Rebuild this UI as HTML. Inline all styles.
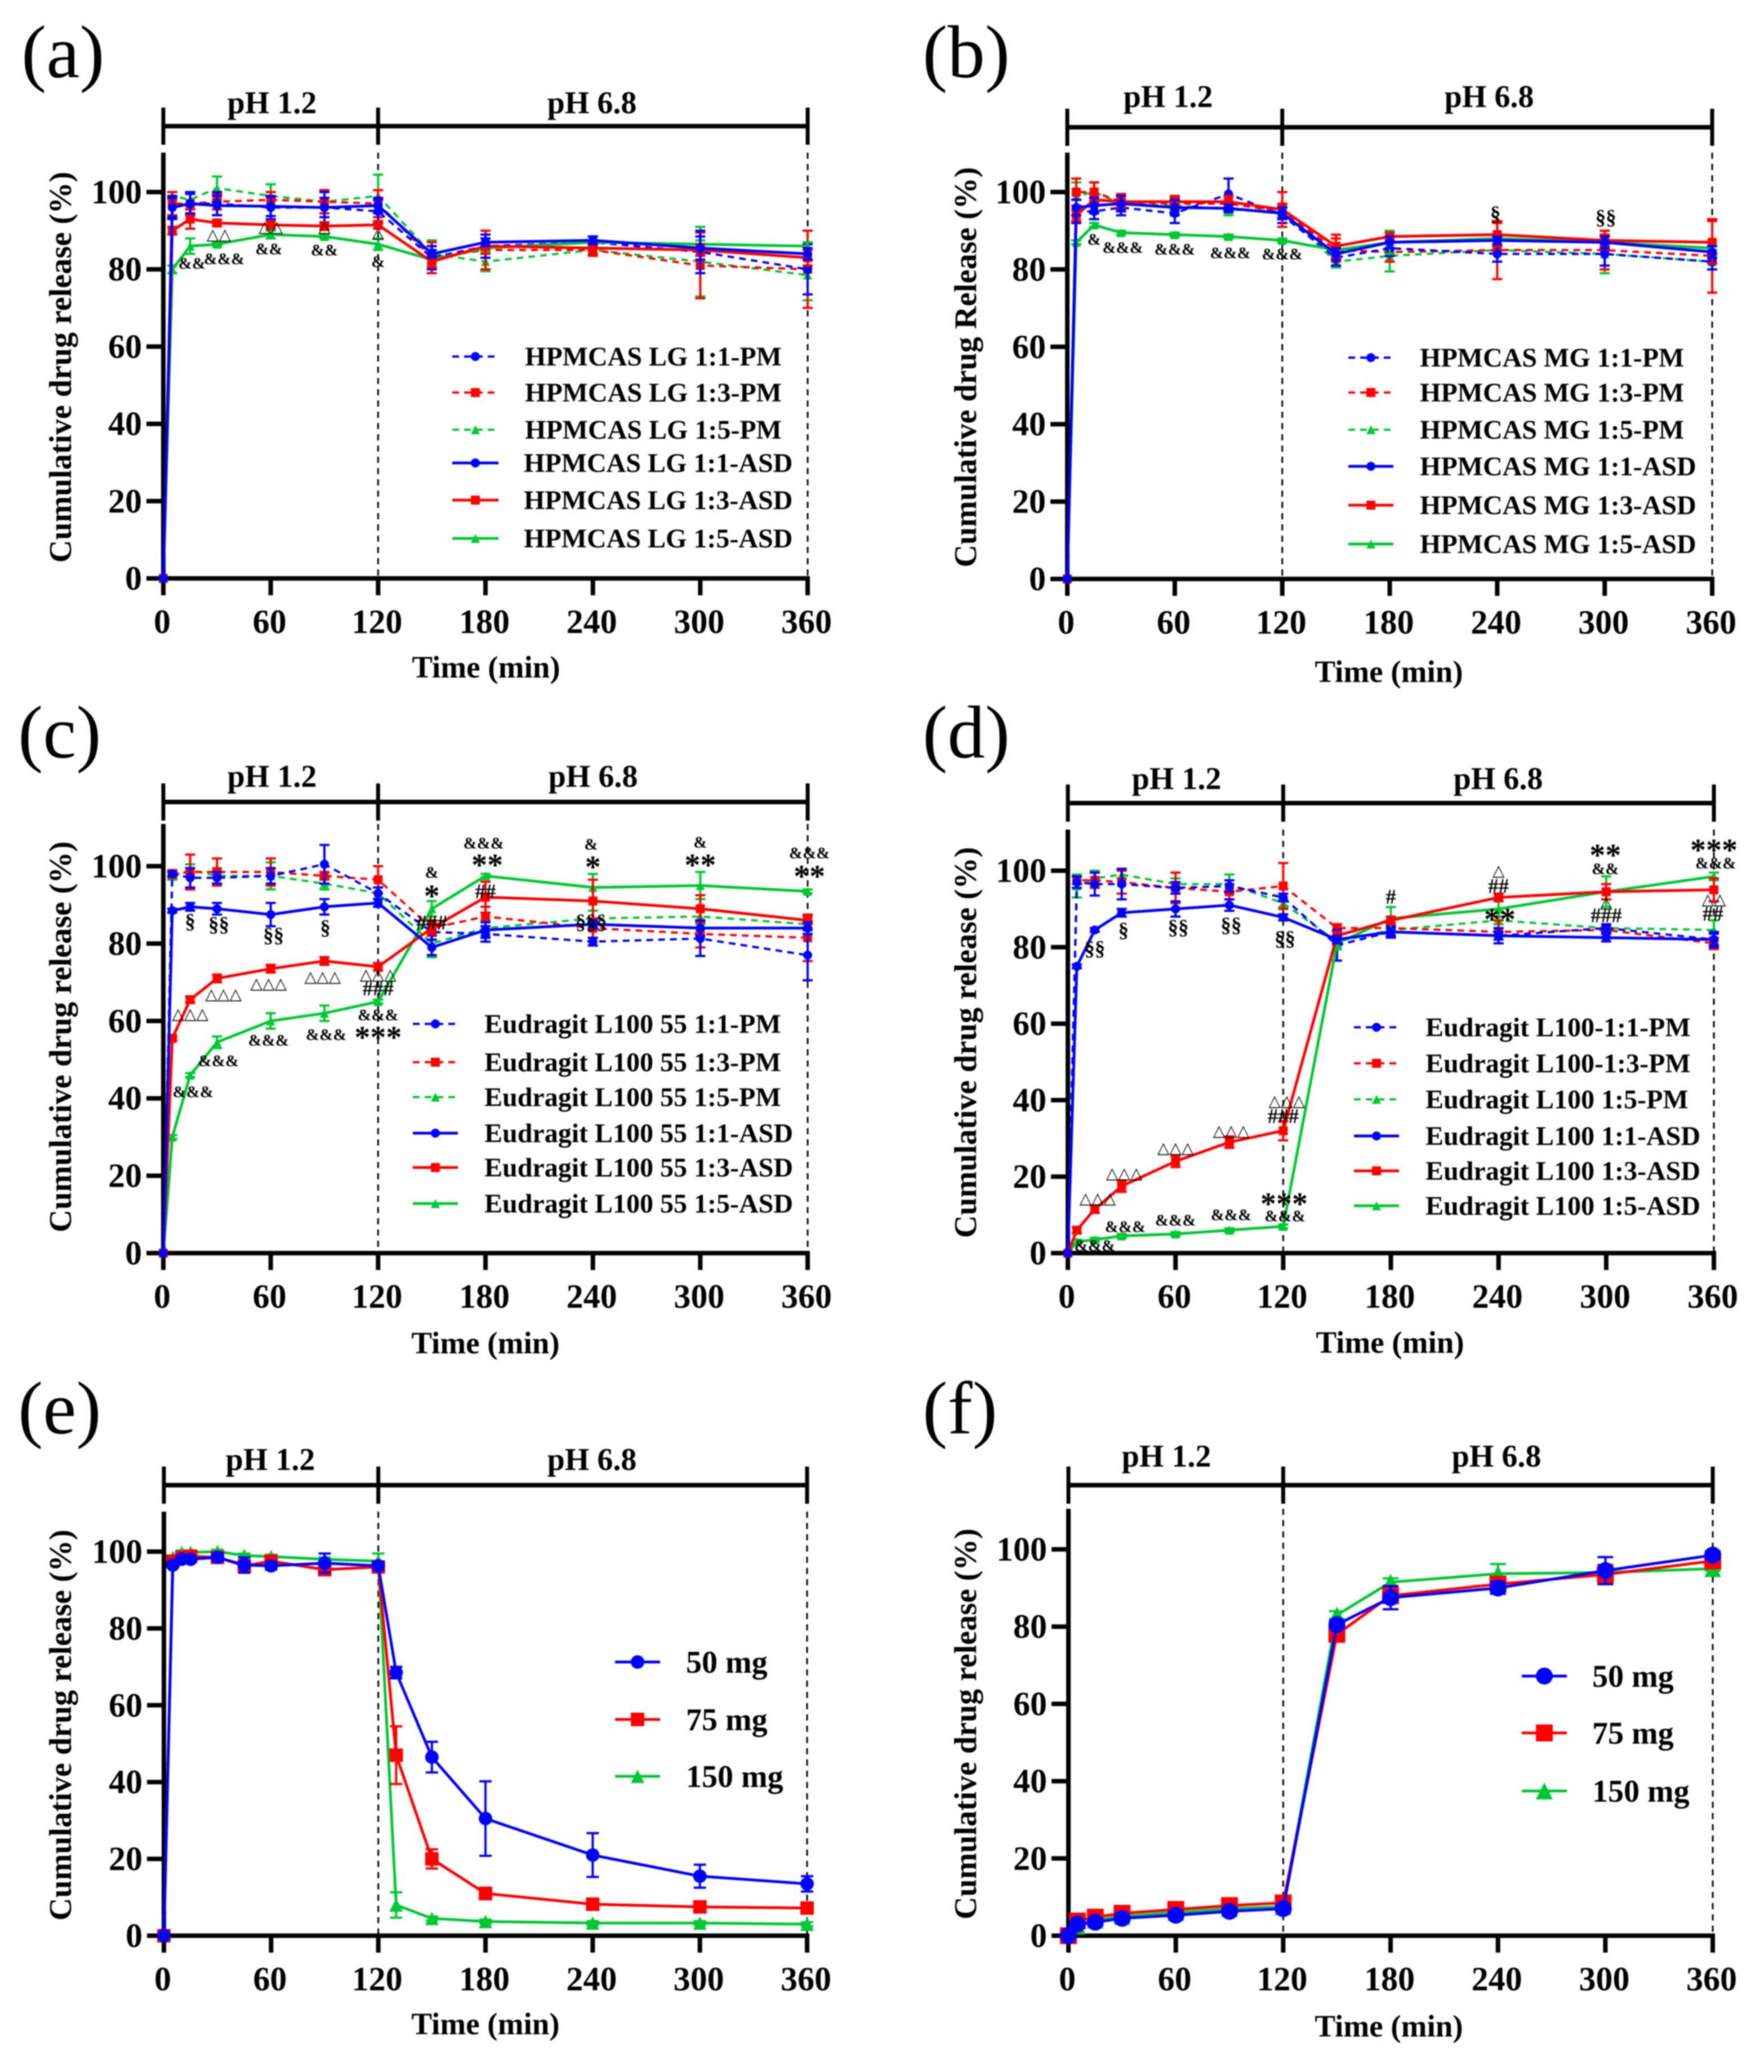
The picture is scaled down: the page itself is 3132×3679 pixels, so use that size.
<!DOCTYPE html>
<html lang="en">
<head>
<meta charset="utf-8">
<title>Cumulative drug release profiles</title>
<style>
html,body{margin:0;padding:0;background:#fff}
svg{display:block;filter:blur(1.1px)}
text{font-family:"Liberation Serif","DejaVu Serif",serif;fill:#000}
.b{font-weight:bold}
.panel-letter{font-size:133px;font-weight:normal}
.ph{font-size:56px;font-weight:bold;text-anchor:middle}
.ytitle{font-size:56px;font-weight:bold;text-anchor:middle}
.xtitle{font-size:55px;font-weight:bold;text-anchor:middle}
.leg{font-size:48px;font-weight:bold}
.leg2{font-size:56px;font-weight:bold}
.tick{font-size:60px;font-weight:bold}
</style>
</head>
<body>
<svg id="figure" xmlns="http://www.w3.org/2000/svg" width="3132" height="3679" viewBox="0 0 3132 3679">
<rect width="3132" height="3679" fill="#fff"/>

<g id="panel-a">
<text class="panel-letter" x="38" y="137">(a)</text>
<text class="ph" x="483" y="201">pH 1.2</text>
<text class="ph" x="1051" y="201">pH 6.8</text>
<text class="ytitle" transform="translate(126,652) rotate(-90)">Cumulative drug release (%)</text>
<text class="xtitle" x="863" y="1203">Time (min)</text>
<text class="leg" x="932" y="649">HPMCAS LG 1:1-PM</text>
<text class="leg" x="932" y="713">HPMCAS LG 1:3-PM</text>
<text class="leg" x="932" y="779">HPMCAS LG 1:5-PM</text>
<text class="leg" x="930" y="838">HPMCAS LG 1:1-ASD</text>
<text class="leg" x="930" y="904">HPMCAS LG 1:3-ASD</text>
<text class="leg" x="930" y="972">HPMCAS LG 1:5-ASD</text>
</g>

<g id="panel-b">
<text class="panel-letter" x="1638" y="137">(b)</text>
<text class="ph" x="2074" y="190">pH 1.2</text>
<text class="ph" x="2644" y="190">pH 6.8</text>
<text class="ytitle" transform="translate(1733,652) rotate(-90)">Cumulative drug Release (%)</text>
<text class="xtitle" x="2466" y="1211">Time (min)</text>
<text class="leg" x="2521" y="651">HPMCAS MG 1:1-PM</text>
<text class="leg" x="2521" y="713">HPMCAS MG 1:3-PM</text>
<text class="leg" x="2521" y="779">HPMCAS MG 1:5-PM</text>
<text class="leg" x="2521" y="844">HPMCAS MG 1:1-ASD</text>
<text class="leg" x="2521" y="913">HPMCAS MG 1:3-ASD</text>
<text class="leg" x="2521" y="982">HPMCAS MG 1:5-ASD</text>
</g>

<g id="panel-c">
<text class="panel-letter" x="32" y="1345">(c)</text>
<text class="ph" x="483" y="1397">pH 1.2</text>
<text class="ph" x="1053" y="1397">pH 6.8</text>
<text class="ytitle" transform="translate(126,1841) rotate(-90)">Cumulative drug release (%)</text>
<text class="xtitle" x="862" y="2403">Time (min)</text>
<text class="leg" x="860" y="1834">Eudragit L100 55 1:1-PM</text>
<text class="leg" x="860" y="1902">Eudragit L100 55 1:3-PM</text>
<text class="leg" x="860" y="1964">Eudragit L100 55 1:5-PM</text>
<text class="leg" x="860" y="2028">Eudragit L100 55 1:1-ASD</text>
<text class="leg" x="860" y="2089">Eudragit L100 55 1:3-ASD</text>
<text class="leg" x="860" y="2153">Eudragit L100 55 1:5-ASD</text>
</g>

<g id="panel-d">
<text class="panel-letter" x="1638" y="1345">(d)</text>
<text class="ph" x="2089" y="1401">pH 1.2</text>
<text class="ph" x="2660" y="1401">pH 6.8</text>
<text class="ytitle" transform="translate(1733,1851) rotate(-90)">Cumulative drug release (%)</text>
<text class="xtitle" x="2468" y="2402">Time (min)</text>
<text class="leg" x="2531" y="1840">Eudragit L100-1:1-PM</text>
<text class="leg" x="2531" y="1904">Eudragit L100-1:3-PM</text>
<text class="leg" x="2531" y="1968">Eudragit L100 1:5-PM</text>
<text class="leg" x="2531" y="2033">Eudragit L100 1:1-ASD</text>
<text class="leg" x="2531" y="2095">Eudragit L100 1:3-ASD</text>
<text class="leg" x="2531" y="2157">Eudragit L100 1:5-ASD</text>
</g>

<g id="panel-e">
<text class="panel-letter" x="32" y="2545">(e)</text>
<text class="ph" x="480" y="2610">pH 1.2</text>
<text class="ph" x="1051" y="2610">pH 6.8</text>
<text class="ytitle" transform="translate(126,3063) rotate(-90)">Cumulative drug release (%)</text>
<text class="xtitle" x="862" y="3612">Time (min)</text>
<text class="leg2" x="1218" y="2970">50 mg</text>
<text class="leg2" x="1218" y="3072">75 mg</text>
<text class="leg2" x="1218" y="3173">150 mg</text>
</g>

<g id="panel-f">
<text class="panel-letter" x="1638" y="2545">(f)</text>
<text class="ph" x="2071" y="2604">pH 1.2</text>
<text class="ph" x="2657" y="2604">pH 6.8</text>
<text class="ytitle" transform="translate(1733,3061) rotate(-90)">Cumulative drug release (%)</text>
<text class="xtitle" x="2466" y="3616">Time (min)</text>
<text class="leg2" x="2827" y="2995">50 mg</text>
<text class="leg2" x="2827" y="3096">75 mg</text>
<text class="leg2" x="2827" y="3199">150 mg</text>
</g>
</svg>

<script>
// ---------- shared axis data ----------
const xTickLabels = [0, 60, 120, 180, 240, 300, 360];
const yTickLabels = [0, 20, 40, 60, 80, 100];
const sampleTimes = [0, 5, 15, 30, 60, 90, 120, 150, 180, 240, 300, 360];
const sampleTimesE = [0, 5, 10, 15, 30, 45, 60, 90, 120, 130, 150, 180, 240, 300, 360];

// ---------- panel (a) HPMCAS LG ----------
const aPm11 = [0, 96, 97, 97, 96, 96, 95, 83, 86, 87, 84.5, 80];
const aPm13 = [0, 97, 97, 97.5, 98, 97.5, 97, 83, 85, 85, 81, 80];
const aPm15 = [0, 99, 98, 101, 99, 97.5, 99, 84, 82, 85, 82, 78.5];
const aAsd11 = [0, 96, 97, 96.5, 96.3, 96, 96.5, 84, 87, 87.5, 85.5, 84];
const aAsd13 = [0, 90, 93, 92, 91.5, 91.2, 91.5, 82, 86, 85.5, 85, 83];
const aAsd15 = [0, 80, 86, 86.5, 89, 88.5, 86.5, 82.5, 85.5, 87, 86.5, 86];
const aPm11Err = [0, 3, 3, 3, 3, 4, 3, 3, 3, 1.5, 5.5, 6.5];
const aPm13Err = [0, 3, 3, 2, 2, 3, 3.5, 4, 5, 1.5, 8.5, 10];
const aPm15Err = [0, 1, 1.5, 3, 3, 3, 5.5, 3.5, 2.5, 1, 9, 6.5];
const aAsd11Err = [0, 2.5, 2.5, 2.5, 2.5, 2.5, 2, 1, 1, 1, 3, 1.5];
const aAsd13Err = [0, 1, 2.5, 0.8, 1, 1, 1, 1.5, 2, 1.5, 1.5, 2];
const aAsd15Err = [0, 1, 2, 0.5, 1, 0.5, 1.5, 1, 1, 0.5, 1, 1];
const aNotes = [["&&",16,81.6],["&&&",34,82.7],["△△",31,89],["△△",60,91],["&&",59,85.3],["&&",90,85],["△",90,91],["△",120,89.5],["&",120,82]];

// ---------- panel (b) HPMCAS MG ----------
const bPm11 = [0, 95, 95, 96, 94.5, 99.5, 94, 83, 85.5, 84, 84, 82];
const bPm13 = [0, 100, 100, 97.5, 97, 97, 95, 85, 84.5, 85, 85, 83.5];
const bPm15 = [0, 99, 100, 97, 96.5, 95.5, 95, 82, 83.5, 85, 84, 82];
const bAsd11 = [0, 96, 96.5, 97, 96, 95.8, 94.5, 84, 87, 87.5, 87, 84.5];
const bAsd13 = [0, 94, 98, 97.5, 97.5, 97.5, 95.5, 86, 88.5, 89, 87.5, 87];
const bAsd15 = [0, 87, 91.5, 89.5, 89, 88.5, 87.5, 85, 87, 88, 87, 85.5];
const bPm11Err = [0, 3, 2, 2, 2.5, 4, 2, 2, 2, 2, 3, 2];
const bPm13Err = [0, 3.5, 2.5, 2, 1.5, 2, 2, 3, 2.5, 7.5, 5, 9.5];
const bPm15Err = [0, 3.5, 2.5, 2, 1.5, 1.5, 1.5, 1.5, 4, 3, 5, 2];
const bAsd11Err = [0, 2, 2, 2, 2, 1, 1.5, 1.5, 1.5, 1, 1.5, 1.5];
const bAsd13Err = [0, 1.5, 1.5, 1.5, 1.5, 1.5, 4.5, 3, 1, 3, 1.5, 5.5];
const bAsd15Err = [0, 0.5, 0.5, 0.5, 0.5, 0.5, 0.5, 0.5, 3, 0.5, 0.5, 0.5];
const bNotes = [["&",15,87.8],["&&&",31,85.7],["&&&",60,85.2],["&&&",91,84.3],["&&&",120,84],["§",239,94.4],["§§",300.6,93.5]];

// ---------- panel (c) Eudragit L100 55 ----------
const cPm11 = [0, 98, 97, 97, 97.5, 100.5, 93, 83, 82.5, 80.5, 81.3, 77];
const cPm13 = [0, 98, 98.5, 98.5, 98.5, 97.5, 96.5, 84, 87, 84, 82.5, 81.5];
const cPm15 = [0, 97.5, 99, 97.5, 97.5, 95.5, 93, 80, 84, 86.5, 87, 85];
const cAsd11 = [0, 88.5, 89.5, 89, 87.5, 89.5, 90.5, 79, 83.5, 85, 84, 84];
const cAsd13 = [0, 55.5, 65.5, 71, 73.5, 75.5, 74, 84, 92, 91, 89, 86];
const cAsd15 = [0, 30, 46, 54.5, 60, 62, 65, 89, 97.5, 94.5, 95, 93.5];
const cPm11Err = [0, 0.5, 2.5, 1.5, 2, 5, 1.5, 2, 2, 1, 4.5, 6.5];
const cPm13Err = [0, 1, 4.5, 3.5, 3.5, 1, 3.5, 2, 2.5, 2.5, 3.5, 6];
const cPm15Err = [0, 1, 1.5, 2, 3.5, 1.5, 1.5, 3.5, 2, 2, 2, 1];
const cAsd11Err = [0, 0.5, 1, 1.5, 3, 2, 1, 2, 2, 1, 2, 1.5];
const cAsd13Err = [0, 0.5, 0.8, 1, 1, 1, 1, 1.5, 4, 5.5, 3.5, 1];
const cAsd15Err = [0, 0.5, 0.5, 1.5, 2, 2, 0.5, 2, 0.5, 3.5, 3.5, 0.5];
const cNotes = [["§",15,85.8],["§§",31,85],["§§",61.6,82.2],["§",90.5,84.2],["△△△",15,61.8],["△△△",33.6,66.9],["△△△",58.8,69.7],["△△△",89,71.4],["△△△",120,72],["###",120,68.4],["###",150,85.4],["##",180,93.5],["§§§",239,85.6],["&&&",16.6,41.7],["&&&",30.8,49.7],["&&&",58.8,55],["&&&",91,56.5],["&&&",120,61.6],["***",120,57],["&",150,98.4],["*",150,93.5],["&&&",179,106],["**",181,101.5],["&",239,105.7],["*",240,101],["&",300,106.2],["**",300,101.5],["&&&",361,103.4],["**",361,98.6]];

// ---------- panel (d) Eudragit L100 ----------
const dPm11 = [0, 97, 96.5, 96.5, 95.5, 96, 93, 80.5, 84, 83, 85, 82];
const dPm13 = [0, 97.5, 97.5, 97, 95.5, 94.5, 96, 85, 85, 84, 84.5, 81];
const dPm15 = [0, 96, 98, 99, 96.5, 96.5, 91.5, 81.5, 84.5, 87, 85, 84.5];
const dAsd11 = [0, 75, 84.5, 89, 90, 91, 87.8, 82, 84, 83, 82.5, 82];
const dAsd13 = [0, 6, 11.5, 17.5, 24, 29, 32, 83, 87, 93, 94.5, 95];
const dAsd15 = [0, 3, 3.5, 4.5, 5, 6, 7, 81, 87.5, 90, 94.5, 98.5];
const dPm11Err = [0, 1.5, 3, 4, 1.5, 1.5, 1, 4, 1.5, 1, 1, 2];
const dPm13Err = [0, 1, 2, 3, 4, 2, 6, 1, 1, 3, 1, 1.5];
const dPm15Err = [0, 3, 2, 1, 1.5, 2.5, 1, 1, 1.5, 1, 1, 2.5];
const dAsd11Err = [0, 0.5, 0.5, 1, 2, 1.5, 0.8, 1, 1, 2, 1, 1.5];
const dAsd13Err = [0, 0.8, 1, 1.5, 1.5, 1.5, 2.5, 1, 1, 1, 2, 3];
const dAsd15Err = [0, 0.5, 0.5, 0.5, 0.5, 0.5, 0.5, 1.5, 3, 2, 4, 1];
const dNotes = [["§§",15,79.7],["§",31,84.5],["§§",61.5,85.2],["§§",91,85.8],["§§",121,82.3],["&&&",15,2],["&&&",32,6.9],["&&&",60,8.6],["&&&",91,10],["&&&",121,9.7],["***",120.5,14.1],["△△△",16.6,14.3],["△△△",31.4,20.9],["△△△",60,27.5],["△△△",91,32],["△△△",122,39.8],["###",120,35.8],["#",180,93.2],["△",240,100],["##",240,96],["**",240.7,88.5],["**",299.5,105.3],["&&",299.5,100.5],["△",300,91.7],["###",300,88.3],["***",360,106.6],["&&&",361,102],["△△",360,92.5],["##",359.5,88.8]];

// ---------- panel (e) doses ----------
const e50 = [0, 96.5, 98, 98, 98.5, 96.5, 96.3, 97, 96.3, 68.5, 46.5, 30.5, 21, 15.5, 13.5];
const e75 = [0, 97.5, 98.5, 98.8, 98.5, 96.3, 97.5, 95.3, 96, 47, 20, 11, 8.2, 7.5, 7.2];
const e150 = [0, 98.5, 99.8, 99.8, 100, 99, 98.7, 98, 97.5, 8, 4.5, 3.7, 3.3, 3.3, 3];
const e50Err = [0, 0.5, 0.5, 0.5, 1, 2, 1, 2.5, 1, 1.5, 4, 9.7, 5.7, 3, 2];
const e75Err = [0, 0.5, 0.5, 0.5, 1, 1, 1, 1, 1, 7.5, 2.5, 1.5, 1, 1, 1];
const e150Err = [0, 0.5, 0.5, 0.5, 0.5, 0.5, 0.5, 0.5, 2, 3.3, 0.5, 0.5, 0.5, 0.5, 0.5];

// ---------- panel (f) doses ----------
const f50 = [0, 3, 3.5, 4.5, 5.3, 6.3, 7, 80.5, 87.5, 90, 94.5, 98.5];
const f75 = [0, 3.8, 4.8, 5.8, 6.8, 7.8, 8.5, 78, 88, 91, 93.5, 97];
const f150 = [0, 2.5, 4, 5, 6, 7, 7.5, 83, 91.5, 93.7, 94, 95];
const f50Err = [0, 0.5, 0.8, 0.8, 0.8, 0.8, 0.8, 1, 3, 1.5, 3.5, 1];
const f75Err = [0, 0.5, 0.5, 0.5, 0.5, 0.5, 0.5, 1, 1.5, 1.5, 2.5, 1];
const f150Err = [0, 0.5, 0.5, 0.5, 0.5, 0.5, 0.5, 1, 1, 2.5, 0.5, 0.5];

// ---------- drawing ----------
const BLUE = '#0000ff', RED = '#ff0000', GREEN = '#00c832';
const SVGNS = 'http://www.w3.org/2000/svg';

function mk(tag, attrs, parent) {
  const el = document.createElementNS(SVGNS, tag);
  for (const k in attrs) el.setAttribute(k, attrs[k]);
  parent.appendChild(el);
  return el;
}

function line(parent, x1, y1, x2, y2, stroke, width, name, dash) {
  const el = mk('line', {x1: x1, y1: y1, x2: x2, y2: y2, stroke: stroke, 'stroke-width': width}, parent);
  if (dash) el.setAttribute('stroke-dasharray', dash);
  
  
  return el;
}

function marker(parent, shape, cx, cy, s, color) {
  let el;
  if (shape === 'circle') {
    el = mk('circle', {cx: cx, cy: cy, r: s, fill: color}, parent);
  } else if (shape === 'square') {
    el = mk('rect', {x: cx - s, y: cy - s, width: 2 * s, height: 2 * s, fill: color}, parent);
  } else {
    el = mk('polygon', {points: (cx - s) + ',' + (cy + s) + ' ' + (cx + s) + ',' + (cy + s) + ' ' + cx + ',' + (cy - s), fill: color}, parent);
  }
  
  
  return el;
}

function drawFrame(g, p, x, y) {
  const top = p.axisTop, y0 = y(0), x0 = x(0);
  // dashed phase dividers
  line(g, x(120), top, x(120), y0, '#000', 3, 'phase-divider-120', '11 9');
  line(g, x(360), top, x(360), y0, '#000', 3, 'phase-divider-360', '11 9');
  // phase bracket
  line(g, x0, p.bar, x(360), p.bar, '#000', 8, 'phase-bar');
  [0, 120, 360].forEach(function (t) {
    line(g, x(t), p.bar - 33, x(t), p.bar + 33, '#000', 7, 'phase-bracket-end');
  });
  // axes
  line(g, x0, top, x0, y0 + 4, '#000', 8, 'y-axis');
  line(g, x0 - 4, y0, x(360) + 4, y0, '#000', 8, 'x-axis');
  xTickLabels.forEach(function (t) {
    line(g, x(t), y0, x(t), y0 + 30, '#000', 8, 'x-tick');
    const el = mk('text', {x: x(t) - 2, y: y0 + 97, 'text-anchor': 'middle', class: 'tick'}, g);
    el.textContent = t;
    
    
  });
  yTickLabels.forEach(function (v) {
    line(g, x0 - 30, y(v), x0, y(v), '#000', 8, 'y-tick');
    const el = mk('text', {x: x0 - 38, y: y(v) + 20, 'text-anchor': 'end', class: 'tick'}, g);
    el.textContent = v;
    
    
  });
}

function drawSeries(g, p, s, x, y) {
  const sg = mk('g', {}, g);
  
  
  s.values.forEach(function (v, i) {
    const e = s.errors[i];
    if (!e) return;
    const t = p.times[i];
    const cap = p.cap;
    line(sg, x(t), y(v - e), x(t), y(v + e), s.color, 4, 'error-bar');
    line(sg, x(t) - cap, y(v + e), x(t) + cap, y(v + e), s.color, 4, 'error-cap-upper');
    line(sg, x(t) - cap, y(v - e), x(t) + cap, y(v - e), s.color, 4, 'error-cap-lower');
  });
  const pts = s.values.map(function (v, i) { return x(p.times[i]) + ',' + y(v); }).join(' ');
  const pl = mk('polyline', {points: pts, fill: 'none', stroke: s.color, 'stroke-width': s.dashed ? 4 : 5, 'stroke-linejoin': 'round'}, sg);
  if (s.dashed) pl.setAttribute('stroke-dasharray', '12 9');
  
  
  s.values.forEach(function (v, i) {
    marker(sg, s.shape, x(p.times[i]), y(v), p.ms, s.color);
  });
}

function drawNotes(g, notes, x, y) {
  notes.forEach(function (n) {
    const label = n[0];
    const isStar = label.indexOf('*') >= 0;
    const isTri = label.indexOf('△') >= 0;
    const isAmp = label.indexOf('&') >= 0;
    const fs = isStar ? 56 : isTri ? 28 : isAmp ? 29 : 37;
    const dy = isStar ? fs * 0.48 : fs * 0.33;
    const el = mk('text', {x: x(n[1]), y: y(n[2]) + dy, 'text-anchor': 'middle', 'font-size': fs, 'font-weight': isTri ? 'normal' : 'bold'}, g);
    if (isTri) el.setAttribute('style', 'font-family:"DejaVu Sans",sans-serif');
    el.textContent = label;
    
    
  });
}

function drawLegend(g, p) {
  const L = p.legend;
  L.ys.forEach(function (ly, i) {
    const s = L.order[i];
    const lg = mk('g', {}, g);
    
    
    line(lg, L.x0, ly, L.x1, ly, s.color, s.dashed ? 4 : 5, 'legend-line', s.dashed ? '12 9' : null);
    marker(lg, s.shape, (L.x0 + L.x1) / 2, ly, p.ms, s.color);
  });
}

function six(a, b, c, d, e, f, ae, be, ce, de, ee, fe) {
  return [
    {name: '1-1-pm', values: a, errors: ae, color: BLUE, shape: 'circle', dashed: true},
    {name: '1-3-pm', values: b, errors: be, color: RED, shape: 'square', dashed: true},
    {name: '1-5-pm', values: c, errors: ce, color: GREEN, shape: 'triangle', dashed: true},
    {name: '1-1-asd', values: d, errors: de, color: BLUE, shape: 'circle', dashed: false},
    {name: '1-3-asd', values: e, errors: ee, color: RED, shape: 'square', dashed: false},
    {name: '1-5-asd', values: f, errors: fe, color: GREEN, shape: 'triangle', dashed: false}
  ];
}
function three(a, b, c, ae, be, ce) {
  return [
    {name: '50-mg', values: a, errors: ae, color: BLUE, shape: 'circle', dashed: false},
    {name: '75-mg', values: b, errors: be, color: RED, shape: 'square', dashed: false},
    {name: '150-mg', values: c, errors: ce, color: GREEN, shape: 'triangle', dashed: false}
  ];
}

const panels = [
  {id: 'panel-a', x0: 290, x360: 1434, y0: 1027, y100: 341, bar: 224, axisTop: 271, times: sampleTimes, ms: 8, cap: 9,
   series: six(aPm11, aPm13, aPm15, aAsd11, aAsd13, aAsd15, aPm11Err, aPm13Err, aPm15Err, aAsd11Err, aAsd13Err, aAsd15Err), notes: aNotes,
   legendBox: {x0: 803, x1: 885, ys: [633, 697, 763, 822, 888, 956]}},
  {id: 'panel-b', x0: 1895, x360: 3040, y0: 1028, y100: 341, bar: 226, axisTop: 271, times: sampleTimes, ms: 8, cap: 9,
   series: six(bPm11, bPm13, bPm15, bAsd11, bAsd13, bAsd15, bPm11Err, bPm13Err, bPm15Err, bAsd11Err, bAsd13Err, bAsd15Err), notes: bNotes,
   legendBox: {x0: 2394, x1: 2474, ys: [635, 697, 763, 828, 897, 966]}},
  {id: 'panel-c', x0: 290, x360: 1434, y0: 2225, y100: 1538, bar: 1424, axisTop: 1463, times: sampleTimes, ms: 8, cap: 9,
   series: six(cPm11, cPm13, cPm15, cAsd11, cAsd13, cAsd15, cPm11Err, cPm13Err, cPm15Err, cAsd11Err, cAsd13Err, cAsd15Err), notes: cNotes,
   legendBox: {x0: 733, x1: 813, ys: [1818, 1886, 1948, 2012, 2073, 2137]}},
  {id: 'panel-d', x0: 1896, x360: 3043, y0: 2225, y100: 1546, bar: 1426, axisTop: 1473, times: sampleTimes, ms: 8, cap: 9,
   series: six(dPm11, dPm13, dPm15, dAsd11, dAsd13, dAsd15, dPm11Err, dPm13Err, dPm15Err, dAsd11Err, dAsd13Err, dAsd15Err), notes: dNotes,
   legendBox: {x0: 2404, x1: 2484, ys: [1824, 1888, 1952, 2017, 2079, 2141]}},
  {id: 'panel-e', x0: 291, x360: 1433, y0: 3437, y100: 2755, bar: 2637, axisTop: 2684, times: sampleTimesE, ms: 12, cap: 11,
   series: three(e50, e75, e150, e50Err, e75Err, e150Err), notes: [],
   legendBox: {x0: 1092, x1: 1172, ys: [2951, 3053, 3154]}},
  {id: 'panel-f', x0: 1897, x360: 3041, y0: 3437, y100: 2751, bar: 2637, axisTop: 2679, times: sampleTimes, ms: 15, cap: 14,
   series: three(f50, f75, f150, f50Err, f75Err, f150Err), notes: [],
   legendBox: {x0: 2702, x1: 2782, ys: [2976, 3077, 3180]}}
];

panels.forEach(function (p) {
  const g = document.getElementById(p.id);
  const x = function (t) { return p.x0 + t * (p.x360 - p.x0) / 360; };
  const y = function (v) { return p.y0 - v * (p.y0 - p.y100) / 100; };
  drawFrame(g, p, x, y);
  p.legend = {x0: p.legendBox.x0, x1: p.legendBox.x1, ys: p.legendBox.ys, order: p.series};
  drawLegend(g, p);
  // drawn green -> red -> blue so blue markers sit on top, PM traces beneath ASD traces
  let drawOrder;
  if (p.series.length === 6) {
    drawOrder = [2, 1, 0, 5, 4, 3];
  } else {
    drawOrder = [2, 1, 0];
  }
  drawOrder.forEach(function (i) { drawSeries(g, p, p.series[i], x, y); });
  drawNotes(g, p.notes, x, y);
});
</script>
</body>
</html>
